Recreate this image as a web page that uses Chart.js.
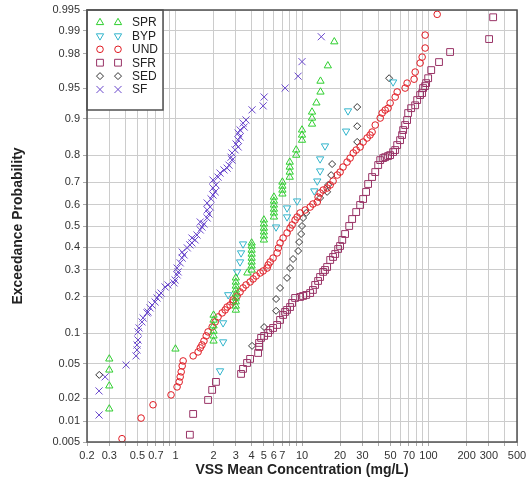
<!DOCTYPE html>
<html>
<head>
<meta charset="utf-8">
<script src="https://cdn.jsdelivr.net/npm/chart.js@4.4.1/dist/chart.umd.min.js"></script>
<style>
  html, body { margin: 0; padding: 0; background: #fff; }
</style>
</head>
<body>
<canvas id="chart" width="530" height="485"></canvas>
<script>
// series names (legend order)
const seriesNames = ['SPR', 'BYP', 'UND', 'SFR', 'SED', 'SF'];

// SPR
const sprConc = [0.3, 0.3, 0.3, 0.3, 1, 2, 2, 2, 2, 2, 2, 3, 3, 3, 3, 3, 3, 3, 3, 3, 3.7,
  4, 4, 4, 4, 4, 4, 4, 4, 5, 5, 5, 5, 5, 5, 6, 6, 6, 6, 6, 6, 7, 7, 7, 7, 8, 8, 8, 8,
  9, 9, 10, 10, 10, 12, 12, 12, 13, 14, 14, 16, 18];
const sprProb = [0.0146, 0.0283, 0.043, 0.0565, 0.0713, 0.0852, 0.095, 0.105, 0.117, 0.131, 0.144,
  0.158, 0.170, 0.183, 0.195, 0.209, 0.223, 0.237, 0.252, 0.268, 0.288,
  0.300, 0.317, 0.334, 0.351, 0.369, 0.387, 0.406, 0.420, 0.434, 0.453, 0.472, 0.490, 0.510, 0.529,
  0.543, 0.562, 0.580, 0.599, 0.617, 0.635, 0.649, 0.666, 0.683, 0.700, 0.720, 0.740, 0.759, 0.777,
  0.801, 0.818, 0.847, 0.861, 0.874, 0.888, 0.901, 0.913, 0.929, 0.945, 0.958, 0.972, 0.986];

// BYP
const bypConc = [2.25, 2.38, 2.38, 2.61, 3.07, 3.24, 3.30, 3.42, 6.24, 7.62, 7.62, 9.15, 12.5,
  13.2, 13.9, 13.9, 15.2, 22.3, 23.1, 52.5];
const bypProb = [0.042, 0.0834, 0.124, 0.206, 0.292, 0.334, 0.374, 0.415, 0.495, 0.543, 0.585,
  0.617, 0.662, 0.704, 0.744, 0.788, 0.830, 0.871, 0.915, 0.957];

// UND
const undConc = [0.378, 0.535, 0.665, 0.923, 1.03, 1.07, 1.09, 1.11, 1.13, 1.15,
  1.38, 1.51, 1.57, 1.62, 1.68, 1.75, 1.81, 1.95, 2.06, 2.17,
  2.34, 2.47, 2.56, 2.70, 2.85, 2.85, 3.07, 3.24, 3.42, 3.61,
  3.89, 4.11, 4.34, 4.67, 4.93, 5.30, 5.40, 5.60, 5.91, 6.36, 6.50, 6.71,
  7.09, 7.62, 8.05, 8.35, 8.82, 9.15, 9.66, 10.6, 11.6, 12.2,
  13.2, 13.4, 13.9, 14.7, 15.8, 16.7, 17.6, 19.0, 20.0, 21.1, 22.7,
  24.0, 25.4, 26.8, 28.8, 30.4, 32.7, 34.5, 35.8, 37.9, 41.5,
  43.0, 45.4, 47.9, 49.7, 54.5, 56.5, 65.3, 67.7, 76.9, 78.4,
  85.8, 89.0, 94.0, 94.0, 117];
const undProb = [0.0056, 0.011, 0.0165, 0.022, 0.0275, 0.0315, 0.036, 0.041, 0.0476, 0.0538,
  0.0607, 0.0666, 0.073, 0.078, 0.0852, 0.095, 0.1033, 0.1143, 0.1263, 0.139,
  0.150, 0.1584, 0.167, 0.173, 0.1825, 0.189, 0.202, 0.2158, 0.230, 0.241,
  0.2523, 0.2638, 0.2756, 0.2877, 0.2958, 0.308, 0.321, 0.334, 0.351, 0.374, 0.3966, 0.420,
  0.443, 0.467, 0.490, 0.505, 0.5285, 0.5427, 0.5616, 0.5757, 0.5895, 0.6034,
  0.6126, 0.635, 0.653, 0.666, 0.6747, 0.6876, 0.704, 0.7284, 0.740, 0.759, 0.777,
  0.791, 0.808, 0.8175, 0.827, 0.8416, 0.853, 0.861, 0.8687, 0.8857, 0.901,
  0.911, 0.9166, 0.920, 0.9287, 0.938, 0.945, 0.950, 0.9558, 0.960, 0.9668,
  0.974, 0.978, 0.9831, 0.9886, 0.9942];

// SFR
const sfrConc = [1.30, 1.38, 1.81, 1.95, 2.09, 3.30, 3.42, 3.68, 3.89, 4.50,
  4.58, 4.58, 4.75, 5.02, 5.40, 5.60, 5.91, 6.36, 6.71, 7.09,
  7.35, 7.62, 8.05, 8.35, 8.82, 9.66, 10.2, 10.8, 11.6, 12.2,
  12.7, 13.4, 13.9, 14.7, 15.2, 15.8, 16.7, 17.6, 18.3, 19.3,
  20.0, 20.8, 21.9, 23.6, 24.9, 26.8, 28.8, 30.4, 32.1, 33.3,
  35.8, 37.9, 40.0, 41.5, 43.8, 45.4, 47.9, 49.7, 52.5, 54.5,
  56.5, 59.6, 61.8, 63.0, 65.3, 67.7, 69.0, 72.9, 78.4, 81.3,
  85.8, 89.0, 90.6, 94.0, 95.7, 99.3, 105, 121, 148, 301, 324];
const sfrProb = [0.0064, 0.0125, 0.019, 0.0253, 0.0315, 0.0389, 0.0442, 0.0512, 0.0565, 0.065,
  0.0746, 0.0816, 0.091, 0.095, 0.101, 0.1075, 0.112, 0.119, 0.1313, 0.1444,
  0.1527, 0.1584, 0.167, 0.1794, 0.1954, 0.1987, 0.202, 0.2055, 0.212, 0.2228,
  0.241, 0.2561, 0.2716, 0.292, 0.300, 0.3124, 0.3427, 0.356, 0.3693, 0.392,
  0.4058, 0.434, 0.462, 0.500, 0.5332, 0.566, 0.599, 0.6262, 0.6575, 0.6917,
  0.7204, 0.740, 0.7664, 0.784, 0.791, 0.794, 0.7979, 0.801, 0.811, 0.8175,
  0.8328, 0.847, 0.861, 0.8737, 0.8857, 0.8967, 0.911, 0.920, 0.925, 0.9334,
  0.9408, 0.9435, 0.950, 0.9524, 0.9558, 0.961, 0.9685, 0.9747, 0.981, 0.9871, 0.9936];

// SED
const sedConc = [0.25, 4.03, 5.02, 6.24, 6.24, 6.71, 7.62, 8.05, 8.50, 9.32, 9.49, 9.84,
  10.0, 10.2, 10.8, 13.9, 15.8, 16.1, 17.0, 17.3, 27.3, 27.3, 27.3, 48.8];
const sedProb = [0.0379, 0.0764, 0.114, 0.156, 0.192, 0.230, 0.268, 0.308, 0.347, 0.383, 0.424, 0.462,
  0.500, 0.538, 0.562, 0.631, 0.658, 0.688, 0.728, 0.770, 0.842, 0.883, 0.922, 0.961];

// SF
const sfConc = [0.249, 0.249, 0.278, 0.407, 0.488, 0.497, 0.497, 0.506, 0.506, 0.516,
  0.544, 0.555, 0.596, 0.607, 0.630, 0.653, 0.690, 0.715, 0.742, 0.770,
  0.828, 0.874, 0.975, 0.993, 1.03, 1.05, 1.03, 1.09, 1.13, 1.17,
  1.13, 1.24, 1.30, 1.35, 1.43, 1.35, 1.48, 1.57, 1.62, 1.68,
  1.57, 1.78, 1.84, 1.78, 1.88, 1.78, 1.91, 1.98, 2.06, 1.98,
  2.09, 1.98, 2.17, 2.25, 2.42, 2.56, 2.65, 2.80, 2.75, 2.80,
  2.96, 3.13, 3.01, 3.13, 3.24, 3.13, 3.24, 3.49, 3.42, 3.61,
  4.03, 4.93, 5.02, 7.35, 9.32, 10.0, 14.2];
const sfProb = [0.0121, 0.0246, 0.036, 0.0488, 0.0607, 0.0697, 0.078, 0.087, 0.1033, 0.112,
  0.1263, 0.1364, 0.150, 0.1527, 0.1643, 0.173, 0.1825, 0.1954, 0.2055, 0.212,
  0.2336, 0.241, 0.2485, 0.260, 0.280, 0.292, 0.308, 0.330, 0.351, 0.365,
  0.378, 0.397, 0.411, 0.420, 0.434, 0.443, 0.457, 0.481, 0.495, 0.510,
  0.519, 0.538, 0.557, 0.576, 0.590, 0.608, 0.627, 0.644, 0.658, 0.675,
  0.688, 0.708, 0.720, 0.736, 0.748, 0.755, 0.766, 0.784, 0.794, 0.808,
  0.818, 0.827, 0.836, 0.847, 0.856, 0.866, 0.874, 0.881, 0.890, 0.897,
  0.917, 0.924, 0.938, 0.950, 0.963, 0.975, 0.988];

// axis ticks
const probTicks = [0.005, 0.01, 0.02, 0.05, 0.1, 0.2, 0.3, 0.4, 0.5, 0.6, 0.7, 0.8, 0.9, 0.95, 0.98, 0.99, 0.995];
const concGrid = [0.2, 0.3, 0.4, 0.5, 0.6, 0.7, 0.8, 0.9, 1, 2, 3, 4, 5, 6, 7, 8, 9,
  10, 20, 30, 40, 50, 60, 70, 80, 90, 100, 200, 300, 400, 500];
const concLabels = [0.2, 0.3, 0.5, 0.7, 1, 2, 3, 4, 5, 6, 7, 10, 20, 30, 50, 70, 100, 200, 300, 500];

// inverse normal cdf (Acklam)
function probit(p) {
  const a = [-39.69683028665376, 220.9460984245205, -275.9285104469687, 138.3577518672690, -30.66479806614716, 2.506628277459239];
  const b = [-54.47609879822406, 161.5858368580409, -155.6989798598866, 66.80131188771972, -13.28068155288572];
  const c = [-0.007784894002430293, -0.3223964580411365, -2.400758277161838, -2.549732539343734, 4.374664141464968, 2.938163982698783];
  const d = [0.007784695709041462, 0.3224671290700398, 2.445134137142996, 3.754408661907416];
  const pl = 0.02425;
  let q, r;
  if (p < pl) {
    q = Math.sqrt(-2 * Math.log(p));
    return (((((c[0]*q+c[1])*q+c[2])*q+c[3])*q+c[4])*q+c[5]) / ((((d[0]*q+d[1])*q+d[2])*q+d[3])*q+1);
  }
  if (p > 1 - pl) {
    q = Math.sqrt(-2 * Math.log(1 - p));
    return -(((((c[0]*q+c[1])*q+c[2])*q+c[3])*q+c[4])*q+c[5]) / ((((d[0]*q+d[1])*q+d[2])*q+d[3])*q+1);
  }
  q = p - 0.5; r = q * q;
  return (((((a[0]*r+a[1])*r+a[2])*r+a[3])*r+a[4])*r+a[5])*q / (((((b[0]*r+b[1])*r+b[2])*r+b[3])*r+b[4])*r+1);
}
function normcdf(z) {
  const t = 1 / (1 + 0.2316419 * Math.abs(z));
  const y = 0.3989423 * Math.exp(-z * z / 2) * t * (0.3193815 + t * (-0.3565638 + t * (1.781478 + t * (-1.821256 + t * 1.330274))));
  return z > 0 ? 1 - y : y;
}

// normal probability axis
class ProbabilityScale extends Chart.Scale {
  static id = 'probability';
  static defaults = {};
  determineDataLimits() {
    this.min = this.options.min;
    this.max = this.options.max;
  }
  buildTicks() {
    return probTicks.map(v => ({ value: v }));
  }
  configure() {
    super.configure();
    this._zMin = probit(this.min);
    this._zRange = probit(this.max) - this._zMin;
  }
  getPixelForValue(v) {
    return this.getPixelForDecimal((probit(v) - this._zMin) / this._zRange);
  }
  getValueForPixel(px) {
    return normcdf(this._zMin + this.getDecimalForPixel(px) * this._zRange);
  }
}
Chart.register(ProbabilityScale);

Chart.defaults.font.family = '"Liberation Sans", Arial, sans-serif';

function pts(xs, ys) {
  return xs.map((x, i) => ({ x: x, y: ys[i] }));
}

const styles = [
  { color: '#2fcf2f', style: 'triangle', radius: 4.2, rotation: 0, data: pts(sprConc, sprProb) },
  { color: '#33b5cc', style: 'triangle', radius: 4.2, rotation: 180, data: pts(bypConc, bypProb) },
  { color: '#e01a22', style: 'circle', radius: 3.3, rotation: 0, data: pts(undConc, undProb) },
  { color: '#993366', style: 'rect', radius: 4.8, rotation: 0, data: pts(sfrConc, sfrProb) },
  { color: '#333333', style: 'rectRot', radius: 3.5, rotation: 0, data: pts(sedConc, sedProb) },
  { color: '#6a48cc', style: 'crossRot', radius: 5, rotation: 0, data: pts(sfConc, sfProb) }
];

const datasets = styles.map((s, i) => ({
  label: seriesNames[i],
  data: s.data,
  showLine: false,
  pointStyle: s.style,
  pointRadius: s.radius,
  pointRotation: s.rotation,
  pointBorderWidth: 1,
  borderColor: s.color,
  pointBorderColor: s.color,
  pointBackgroundColor: 'rgba(0,0,0,0)',
  backgroundColor: 'rgba(0,0,0,0)'
}));

// legend box inside the plot + frame
const legendBox = {
  id: 'legendBox',
  afterDraw(chart) {
    const ctx = chart.ctx;
    const a = chart.chartArea;
    ctx.save();
    ctx.fillStyle = '#fff';
    ctx.fillRect(a.left, a.top, 76, 100);
    ctx.strokeStyle = '#505050';
    ctx.lineWidth = 1.5;
    ctx.strokeRect(a.left, a.top, 76, 100);
    ctx.font = '12px "Liberation Sans", Arial, sans-serif';
    ctx.textBaseline = 'middle';
    chart.data.datasets.forEach((ds, i) => {
      const y = a.top + 12.5 + i * 13.4;
      ctx.strokeStyle = ds.pointBorderColor;
      ctx.fillStyle = 'rgba(0,0,0,0)';
      ctx.lineWidth = 1;
      [13, 31].forEach(dx => {
        Chart.helpers.drawPoint(ctx, {
          pointStyle: ds.pointStyle, rotation: ds.pointRotation, radius: ds.pointRadius, borderWidth: 1
        }, a.left + dx, y);
      });
      ctx.fillStyle = '#222';
      ctx.fillText(ds.label, a.left + 45, y + 0.5);
    });
    ctx.strokeStyle = '#505050';
    ctx.lineWidth = 1.5;
    ctx.strokeRect(a.left, a.top, a.right - a.left, a.bottom - a.top);
    ctx.restore();
  }
};

new Chart(document.getElementById('chart'), {
  type: 'scatter',
  data: { datasets: datasets },
  options: {
    responsive: false,
    animation: false,
    events: [],
    layout: { padding: { top: 10, right: 13, bottom: 0, left: 0 } },
    plugins: { legend: { display: false }, tooltip: { enabled: false } },
    scales: {
      x: {
        type: 'logarithmic',
        min: 0.2,
        max: 500,
        afterBuildTicks(s) { s.ticks = concGrid.map(v => ({ value: v })); },
        afterFit(s) { s.height = 43; },
        grid: { color: '#cccccc', tickLength: 4, tickColor: '#aaaaaa' },
        border: { display: false },
        ticks: {
          autoSkip: false, maxRotation: 0, minRotation: 0, padding: 3, color: '#333',
          font: { size: 11 },
          callback: v => concLabels.includes(v) ? String(v) : ''
        },
        title: {
          display: true, text: 'VSS Mean Concentration (mg/L)', color: '#222',
          font: { size: 14, weight: 'bold' }, padding: { top: 0, bottom: 6 }
        }
      },
      y: {
        type: 'probability',
        min: 0.005,
        max: 0.995,
        afterFit(s) { s.width = 87; },
        grid: { color: '#cccccc', tickLength: 4, tickColor: '#aaaaaa' },
        border: { display: false },
        ticks: { autoSkip: false, padding: 3, color: '#333', font: { size: 11 } },
        title: {
          display: true, text: 'Exceedance Probability', color: '#222',
          font: { size: 14, weight: 'bold' }, padding: { top: 10, bottom: 0 }
        }
      }
    }
  },
  plugins: [legendBox]
});
</script>
</body>
</html>
